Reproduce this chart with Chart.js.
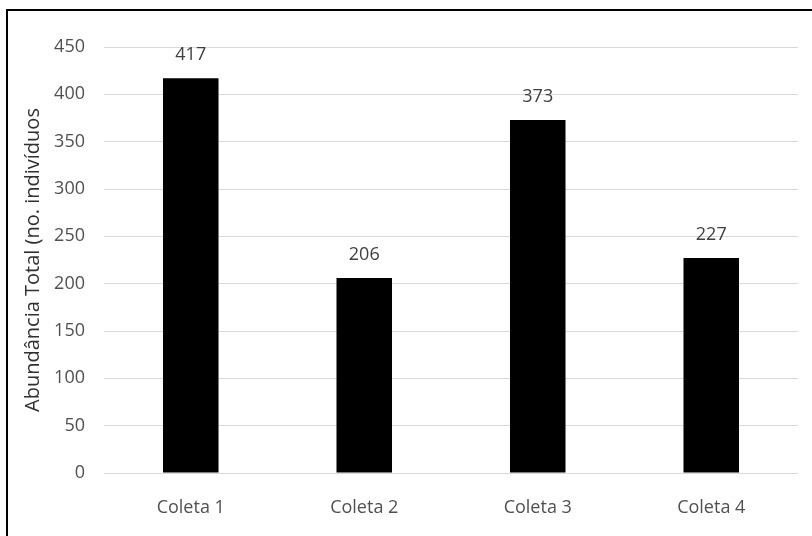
<!DOCTYPE html>
<html>
<head>
<meta charset="utf-8">
<script src="https://cdn.jsdelivr.net/npm/chart.js@4.4.0/dist/chart.umd.min.js"></script>
<style>
  html, body { margin: 0; padding: 0; background: #fff; }
  #wrap { position: relative; width: 812px; height: 536px; overflow: hidden; }
  #frame { position: absolute; left: 6px; top: 9px; width: 900px; height: 700px;
           border-left: 2px solid #000; border-top: 2px solid #000; pointer-events: none; }
  canvas { position: absolute; left: 0; top: 0; }
</style>
</head>
<body>
<div id="wrap">
  <canvas id="myChart" width="812" height="536"></canvas>
  <div id="frame"></div>
</div>
<script>
const categories = ['Coleta 1', 'Coleta 2', 'Coleta 3', 'Coleta 4'];
const abundance = [417, 206, 373, 227];
const yTicks = [0, 50, 100, 150, 200, 250, 300, 350, 400, 450];

// value labels above each bar
const barLabels = {
    id: 'barLabels',
    afterDatasetsDraw(chart) {
        const ctx = chart.ctx;
        const meta = chart.getDatasetMeta(0);
        ctx.save();
        ctx.font = '18px "Open Sans"';
        ctx.fillStyle = '#404040';
        ctx.textAlign = 'center';
        ctx.textBaseline = 'middle';
        meta.data.forEach((bar, i) => {
            ctx.fillText(abundance[i], bar.x, bar.y - 23);
        });
        ctx.restore();
    }
};

const ctx = document.getElementById('myChart').getContext('2d');
const myChart = new Chart(ctx, {
    type: 'bar',
    data: {
        labels: categories,
        datasets: [{
            label: 'Abundância',
            data: abundance,
            backgroundColor: '#000000',
            borderWidth: 0,
            barPercentage: 0.64,
            categoryPercentage: 0.5
        }]
    },
    options: {
        responsive: false,
        animation: false,
        layout: { padding: { top: 47, right: 14, left: 0, bottom: 0 } },
        plugins: {
            legend: { display: false },
            tooltip: { enabled: false }
        },
        scales: {
            x: {
                grid: { display: false },
                border: { display: false },
                ticks: {
                    color: '#505050',
                    font: { family: 'Open Sans', size: 18 },
                    padding: 16,
                    maxRotation: 0
                },
                afterFit(scale) { scale.height = 63; }
            },
            y: {
                min: 0,
                max: 450,
                afterBuildTicks(scale) { scale.ticks = yTicks.map(v => ({ value: v })); },
                grid: { color: '#d9d9d9', lineWidth: 1, drawTicks: false },
                border: { display: false },
                ticks: {
                    color: '#505050',
                    font: { family: 'Open Sans', size: 18 },
                    padding: 19
                },
                title: {
                    display: true,
                    text: 'Abundância Total (no. indivíduos',
                    color: '#303030',
                    font: { family: 'Open Sans', size: 20 },
                    padding: { top: 21, bottom: 0 }
                },
                afterFit(scale) { scale.width = 104; }
            }
        }
    },
    plugins: [barLabels]
});
</script>
</body>
</html>
